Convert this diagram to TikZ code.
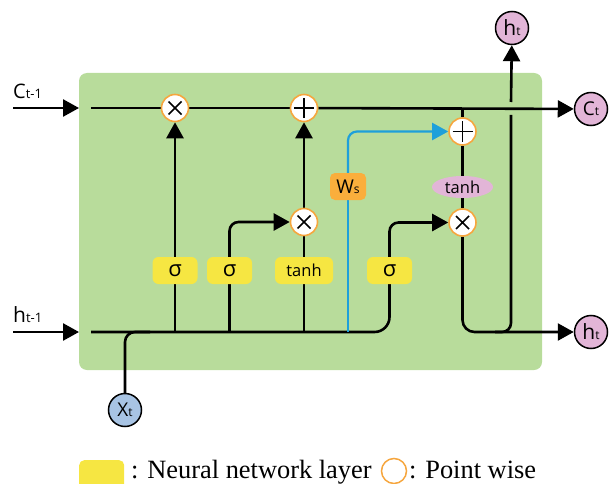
\documentclass[tikz,border=0pt]{standalone}
\usepackage{fontspec}
\setmainfont{Liberation Serif}
\setsansfont{Open Sans}
\usetikzlibrary{arrows.meta,shapes.geometric}
\pgfdeclarelayer{bg}
\pgfdeclarelayer{lns}
\pgfsetlayers{bg,lns,main}
\definecolor{cellgreen}{RGB}{184,220,155}
\definecolor{layeryellow}{RGB}{246,230,66}
\definecolor{wsorange}{RGB}{250,174,60}
\definecolor{oprange}{RGB}{246,166,62}
\definecolor{outpink}{RGB}{226,181,215}
\definecolor{inblue}{RGB}{168,196,228}
\definecolor{skipblue}{RGB}{30,160,218}
\newcommand\lblsub[4]{{\fontsize{#1}{#1}\selectfont #3}{\fontsize{#2}{#2}\selectfont #4}}
\tikzset{
  ln/.style={line width=2.6pt, draw=black},
  arr/.style={-{Triangle[length=16pt,width=17pt]}},
  opc/.style={circle, draw=oprange, line width=1.6pt, fill=white, minimum size=27pt, inner sep=0pt},
  optimes/.style={opc, path picture={
      \draw[line width=1.5pt,black]
        ([shift={(-6.5pt,-6.5pt)}]path picture bounding box.center) -- ([shift={(6.5pt,6.5pt)}]path picture bounding box.center)
        ([shift={(-6.5pt,6.5pt)}]path picture bounding box.center) -- ([shift={(6.5pt,-6.5pt)}]path picture bounding box.center);}},
  opplus/.style={opc, path picture={
      \draw[line width=1.5pt,black]
        ([shift={(-10pt,0pt)}]path picture bounding box.center) -- ([shift={(10pt,0pt)}]path picture bounding box.center)
        ([shift={(0pt,-10pt)}]path picture bounding box.center) -- ([shift={(0pt,10pt)}]path picture bounding box.center);}},
  nnbox/.style={fill=layeryellow, rounded corners=6pt, minimum width=45pt, minimum height=27pt, inner sep=0pt},
  wsbox/.style={fill=wsorange, rounded corners=5pt, minimum width=36pt, minimum height=27pt, inner sep=0pt},
  pinkc/.style={circle, draw=black, line width=1.5pt, fill=outpink, minimum size=33pt, inner sep=0pt},
  bluec/.style={circle, draw=black, line width=1.5pt, fill=inblue, minimum size=33pt, inner sep=0pt},
  tanhell/.style={ellipse, fill=outpink, minimum width=61pt, minimum height=22pt, inner sep=0pt},
}
\begin{document}
\begin{tikzpicture}[x=1pt,y=-1pt,font=\sffamily]
\useasboundingbox (0,0) rectangle (610,484);
% background cell
\begin{pgfonlayer}{bg}
  \fill[cellgreen, rounded corners=8pt] (79,73) rectangle (542,370);
\end{pgfonlayer}

% pointwise ops
\node[optimes] (x1) at (175,108) {};
\node[opplus]  (p1) at (304,108) {};
\node[optimes] (x2) at (304,222) {};
\node[opplus]  (p2) at (462.5,131.5) {};
\node[tanhell] (th2) at (462.5,187) {\fontsize{16.5}{16.5}\selectfont tanh};
\node[optimes] (x3) at (462.5,222.5) {};

% layers
\node[nnbox] (s1) at (175,270.5) {\fontsize{22}{22}\selectfont σ};
\node[nnbox] (s2) at (229.5,270.5) {\fontsize{22}{22}\selectfont σ};
\node[nnbox, minimum width=58pt] (t1) at (304,270.5) {\fontsize{16.5}{16.5}\selectfont tanh};
\node[nnbox] (s3) at (389.5,270.5) {\fontsize{22}{22}\selectfont σ};
\node[wsbox] (ws) at (348,186.5) {\lblsub{19}{12}{W}{s}};

% inputs / outputs
\node[pinkc] (ct) at (591,109) {\lblsub{19}{12}{C}{t}};
\node[pinkc] (htr) at (591,332) {\lblsub{21}{12}{h}{t}};
\node[pinkc] (htt) at (512,28) {\lblsub{21}{12}{h}{t}};
\node[bluec] (xt) at (125,410) {\lblsub{19}{12}{X}{t}};

\node[anchor=base west, inner sep=0pt] (lc) at (13,99) {\lblsub{20}{13}{C}{t-1}};
\node[anchor=base west, inner sep=0pt] (lh) at (13,322) {\lblsub{21}{13}{h}{t-1}};

\coordinate (cin0) at (13,108);
\coordinate (cin1) at (79,108);
\coordinate (cst) at (91,108);
\coordinate (hin0) at (13,332);
\coordinate (hin1) at (79,332);
\coordinate (hst) at (91,332);
\coordinate (cj) at (462.5,108);
\coordinate (hj) at (495,332);
\coordinate (vlo) at (511,115);
\coordinate (vhi) at (511,102);
\coordinate (xj) at (150,332);

\begin{pgfonlayer}{lns}
  % cell state
  \draw[ln,arr] (cin0) -- (cin1);
  \draw[ln] (cst) -- (x1);
  \draw[ln] (x1) -- (p1);
  \draw[ln,arr] (p1) -- (ct);
  % hidden input
  \draw[ln,arr] (hin0) -- (hin1);
  \draw[ln, rounded corners=15pt] (hst) -| (s3.south);
  \draw[ln, rounded corners=10pt] (xt.north) |- (xj);
  % gates
  \draw[ln] (s1.south |- hst) -- (s1.south);
  \draw[ln,arr] (s1.north) -- (x1);
  \draw[ln] (s2.south |- hst) -- (s2.south);
  \draw[ln,arr, rounded corners=9pt] (s2.north) |- (x2);
  \draw[ln] (t1.south |- hst) -- (t1.south);
  \draw[ln] (t1.north) -- (x2);
  \draw[ln,arr] (x2) -- (p1);
  \draw[ln,arr, rounded corners=9pt] (s3.north) |- (x3);
  % skip path
  \draw[line width=2.2pt, skipblue] (ws.south |- hst) -- (ws.south);
  \draw[line width=2.2pt, skipblue, arr, rounded corners=9pt] (ws.north) |- (p2);
  % output side
  \draw[ln] (cj) -- (p2);
  \draw[ln] (p2) -- (th2);
  \draw[ln] (th2) -- (x3);
  \draw[ln,arr, rounded corners=12pt] (x3) |- (htr);
  \draw[ln, rounded corners=9pt] (hj) -| (vlo);
  \draw[ln,arr] (vhi) -- (htt);
\end{pgfonlayer}

% legend
\node[fill=layeryellow, rounded corners=5pt, minimum width=45pt, minimum height=34pt, inner sep=0pt, anchor=north west] (lgbox) at (79,460) {};
\node[anchor=base west, inner sep=0pt, font=\rmfamily\fontsize{26.4}{26.4}\selectfont] (lgt1) at (131,478) {: Neural network layer};
\node[circle, draw=oprange, line width=1.5pt, minimum size=25pt, inner sep=0pt] (lgc) at (394,471) {};
\node[anchor=base west, inner sep=0pt, font=\rmfamily\fontsize{26.4}{26.4}\selectfont] (lgt2) at (409,478) {: Point wise};
\end{tikzpicture}
\end{document}
